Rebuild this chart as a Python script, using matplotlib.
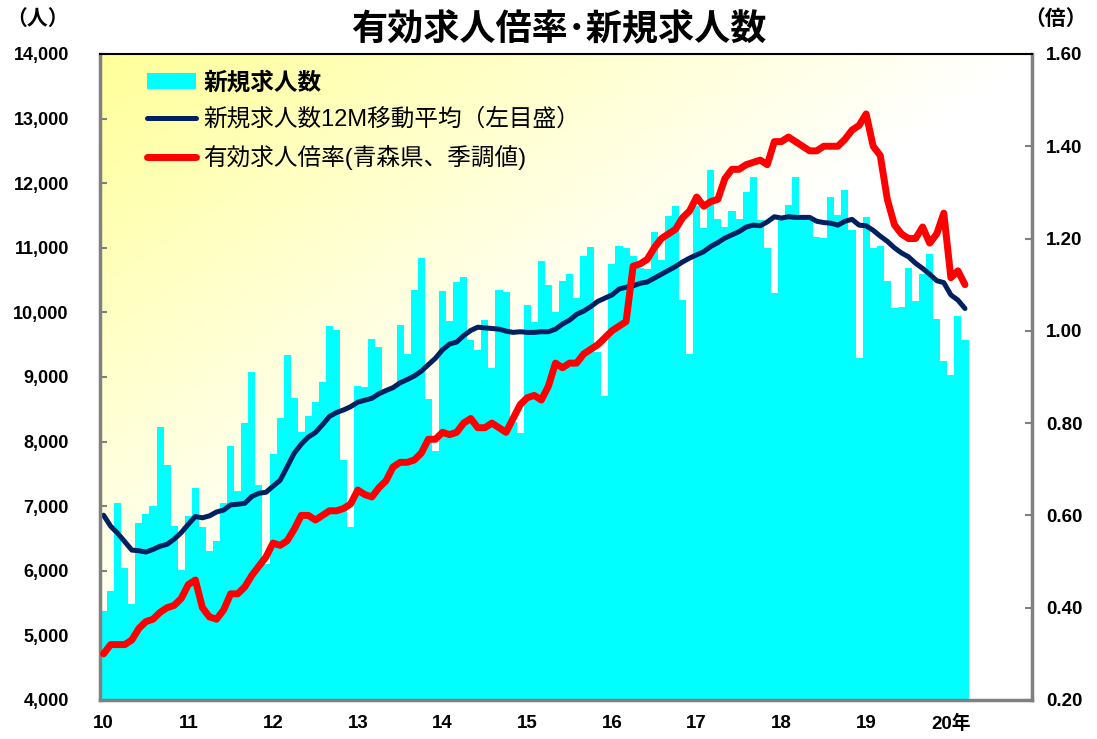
import numpy as np
import matplotlib.pyplot as plt
from matplotlib.patches import Patch
from matplotlib.lines import Line2D

# monthly, Jan 2010 - Mar 2020
new_openings = [
    5370, 5680, 7050, 6040, 5490, 6740, 6880, 7000, 8220, 7640, 6690, 6010,
    6850, 7280, 6680, 6310, 6460, 7050, 7930, 7230, 8280, 9070, 7330, 6100,
    7800, 8360, 9340, 8670, 8150, 8400, 8610, 8920, 9790, 9730, 7720, 6670,
    8860, 8850, 9590, 9460, 8800, 8850, 9810, 9350, 10350, 10840, 8660, 7860,
    10330, 9870, 10470, 10540, 9570, 9420, 9880, 9140, 10340, 10310, 8300, 8130,
    10110, 9850, 10790, 10420, 10000, 10490, 10600, 10220, 10880, 11010, 9390, 8700,
    10750, 11030, 11000, 10870, 10690, 10670, 11250, 10810, 11490, 11650, 10190, 9350,
    11650, 11300, 12210, 11440, 11320, 11570, 11450, 11870, 12090, 11430, 11000, 10300,
    11440, 11660, 12090, 11480, 11470, 11160, 11150, 11780, 11510, 11900, 11280, 9300,
    11470, 10990, 11020, 10490, 10060, 10080, 10690, 10170, 10600, 10900, 9890, 9240,
    9030, 9950, 9570,
]

openings_12m = [
    6860, 6690, 6580, 6450, 6320, 6310, 6290, 6330, 6380, 6410, 6490, 6590,
    6720, 6840, 6820, 6850, 6910, 6940, 7020, 7030, 7045, 7150, 7200, 7215,
    7310, 7400, 7610, 7820, 7960, 8070, 8140, 8260, 8390, 8450, 8490, 8540,
    8610, 8640, 8670, 8740, 8790, 8835, 8910, 8960, 9015, 9090, 9190, 9290,
    9420, 9510, 9540, 9640, 9720, 9770, 9760, 9750, 9740, 9710, 9690, 9700,
    9690, 9690, 9700, 9700, 9740, 9820, 9880, 9970, 10020, 10090, 10170, 10220,
    10270, 10360, 10390, 10410, 10450, 10470, 10530, 10590, 10650, 10710, 10780, 10840,
    10890, 10940, 11020, 11080, 11150, 11200, 11250, 11320, 11350, 11340, 11400, 11480,
    11460, 11480, 11470, 11470, 11470, 11410, 11390, 11380, 11350, 11410, 11440, 11350,
    11340, 11270, 11180, 11100, 11000, 10920, 10860, 10760, 10680, 10590, 10490, 10460,
    10270, 10190, 10060,
]

jobs_ratio = [
    0.30, 0.32, 0.32, 0.32, 0.33, 0.355, 0.37, 0.375, 0.39, 0.40, 0.405, 0.42,
    0.45, 0.46, 0.40, 0.38, 0.375, 0.395, 0.43, 0.43, 0.445, 0.47, 0.49, 0.51,
    0.54, 0.535, 0.545, 0.57, 0.60, 0.60, 0.59, 0.60, 0.61, 0.61, 0.615, 0.625,
    0.655, 0.645, 0.64, 0.66, 0.675, 0.705, 0.715, 0.715, 0.72, 0.735, 0.765, 0.765,
    0.78, 0.775, 0.78, 0.80, 0.81, 0.79, 0.79, 0.80, 0.79, 0.78, 0.81, 0.84,
    0.855, 0.86, 0.85, 0.88, 0.93, 0.92, 0.93, 0.93, 0.95, 0.96, 0.97, 0.985,
    1.00, 1.01, 1.02, 1.14, 1.145, 1.155, 1.18, 1.20, 1.21, 1.22, 1.245, 1.26,
    1.29, 1.27, 1.28, 1.285, 1.33, 1.35, 1.35, 1.36, 1.365, 1.37, 1.36, 1.41,
    1.41, 1.42, 1.41, 1.40, 1.39, 1.39, 1.40, 1.40, 1.40, 1.415, 1.435, 1.445,
    1.47, 1.40, 1.38, 1.285, 1.23, 1.21, 1.20, 1.20, 1.225, 1.19, 1.21, 1.255,
    1.115, 1.13, 1.10,
]

year_labels = ['10', '11', '12', '13', '14', '15', '16', '17', '18', '19', '20年']

plt.rcParams['font.family'] = ['Liberation Sans', 'Noto Sans CJK JP']

CYAN = '#00FFFF'
NAVY = '#002060'
RED = '#FF0000'
GRAY = '#808080'

fig = plt.figure(figsize=(10.97, 7.39), dpi=100)
rect = [0.0912, 0.0528, 0.8496, 0.8742]

# yellow -> white diagonal gradient behind the plot
bg = fig.add_axes(rect, zorder=-1)
fx, fy = np.meshgrid(np.linspace(0, 1, 300), np.linspace(0, 1, 200))
t = np.clip((fx + fy) / 1.0, 0, 1)
grad = np.dstack([np.ones_like(t), np.ones_like(t), 0.6 + 0.4 * t])
bg.imshow(grad, aspect='auto', extent=[0, 1, 0, 1], origin='upper')
bg.axis('off')

ax = fig.add_axes(rect)
ax.patch.set_visible(False)
x = np.arange(len(new_openings))

ax.bar(x, new_openings, width=1.0, color=CYAN, linewidth=0, zorder=2)
ax.plot(x, openings_12m, color=NAVY, lw=3.6, solid_capstyle='round',
        solid_joinstyle='round', zorder=3)
ax.set_xlim(-0.5, 131.5)
ax.set_ylim(4000, 14000)

ax2 = ax.twinx()
ax2.plot(x, jobs_ratio, color=RED, lw=5, solid_capstyle='round',
         solid_joinstyle='round', zorder=4)
ax2.set_ylim(0.2, 1.6)

# axes ticks / labels
yt = np.arange(4000, 14001, 1000)
ax.set_yticks(yt)
ax.set_yticklabels([f'{v:,}' for v in yt], fontsize=13, fontweight='bold')
ax.tick_params(axis='y', direction='in', length=5, width=1.5, color=GRAY, pad=22.5)

rt = np.arange(0.2, 1.61, 0.2)
ax2.set_yticks(rt)
ax2.set_yticklabels([f'{v:.2f}' for v in rt], fontsize=13.5, fontweight='bold')
ax2.tick_params(axis='y', direction='in', length=5, width=1.5, color=GRAY, pad=10)

ax.set_xticks(np.arange(0, 121, 12))
ax.set_xticklabels(year_labels, fontsize=13.5, fontweight='bold')
ax.tick_params(axis='x', length=0, pad=11)

for a in (ax, ax2):
    for s in a.spines.values():
        s.set_visible(False)
for side in ('left', 'bottom', 'right'):
    ax2.spines[side].set_visible(True)
    ax2.spines[side].set_color(GRAY)
    ax2.spines[side].set_linewidth(2.5)
ax2.spines['top'].set_visible(True)
ax2.spines['top'].set_color('black')
ax2.spines['top'].set_linewidth(1.5)

# legend
handles = [
    Patch(facecolor=CYAN, edgecolor='none'),
    Line2D([], [], color=NAVY, lw=3.6, solid_capstyle='round'),
    Line2D([], [], color=RED, lw=5, solid_capstyle='round'),
]
labels = ['新規求人数', '新規求人数12M移動平均（左目盛）', '有効求人倍率(青森県、季調値)']
leg = ax2.legend(handles, labels, loc='upper left', bbox_to_anchor=(0.04, 0.988),
                 frameon=False, fontsize=17, handlelength=2.1, handletextpad=0.3,
                 labelspacing=0.6, borderaxespad=0)
leg.get_texts()[0].set_fontweight('bold')

fig.text(0.509, 0.958, '有効求人倍率･新規求人数', ha='center', va='center',
         fontsize=26, fontweight='bold')
fig.text(0.034, 0.975, '（人）', ha='center', va='center', fontsize=15, fontweight='bold')
fig.text(0.962, 0.975, '（倍）', ha='center', va='center', fontsize=15, fontweight='bold')

fig.savefig('out.png', dpi=100)
